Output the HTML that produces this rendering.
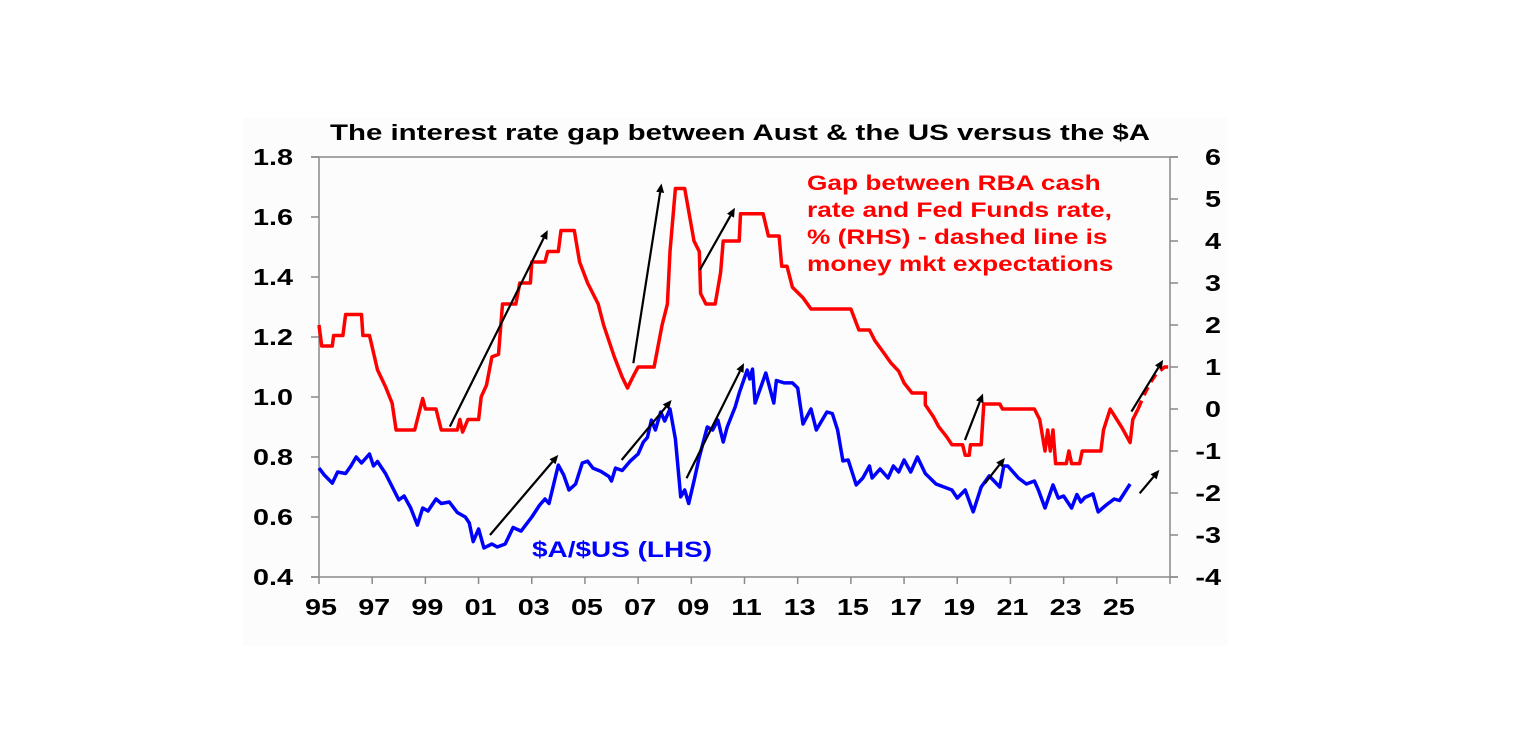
<!DOCTYPE html>
<html><head><meta charset="utf-8"><style>
html,body{margin:0;padding:0;background:#fff;}
svg{display:block;font-family:"Liberation Sans",Arial,sans-serif;}
</style></head><body>
<svg id="chart" width="1536" height="744" viewBox="0 0 1536 744" xmlns="http://www.w3.org/2000/svg">
<rect x="243" y="118" width="985" height="528" fill="#fcfcfc"/>
<text x="330" y="140" font-size="22" font-weight="bold" fill="#000" textLength="820" lengthAdjust="spacingAndGlyphs">The interest rate gap between Aust &amp; the US versus the $A</text>
<g id="axes"></g>
<g id="marks"></g>
<g id="arrows"></g>
<g id="rhsnote" font-size="21" font-weight="bold" fill="#ff0000">
<text x="807" y="190">Gap between RBA cash</text>
<text x="807" y="217">rate and Fed Funds rate,</text>
<text x="807" y="244">% (RHS) - dashed line is</text>
<text x="807" y="271">money mkt expectations</text>
</g>
<text id="blueLabel" x="532" y="557" font-size="22" font-weight="bold" fill="#0000ff">$A/$US (LHS)</text>
</svg>
<script>
const xTickLabels=["95","97","99","01","03","05","07","09","11","13","15","17","19","21","23","25"];
const xTickYears=[1995,1997,1999,2001,2003,2005,2007,2009,2011,2013,2015,2017,2019,2021,2023,2025,2027];
const leftTicks=[0.4,0.6,0.8,1.0,1.2,1.4,1.6,1.8];
const rightTicks=[-4,-3,-2,-1,0,1,2,3,4,5,6];
const gapYears=[1995.0,1995.1,1995.5,1995.55,1995.9,1996.0,1996.6,1996.65,1996.9,1997.2,1997.5,1997.75,1997.9,1998.6,1998.9,1999.0,1999.4,1999.6,2000.2,2000.3,2000.4,2000.6,2001.0,2001.1,2001.3,2001.5,2001.75,2001.9,2002.4,2002.55,2002.95,2003.0,2003.5,2003.6,2004.0,2004.1,2004.6,2004.8,2005.1,2005.3,2005.5,2005.7,2006.1,2006.4,2006.6,2006.8,2007.0,2007.6,2007.9,2008.1,2008.2,2008.4,2008.75,2009.1,2009.3,2009.35,2009.55,2009.9,2010.1,2010.2,2010.8,2010.85,2011.7,2011.9,2012.3,2012.4,2012.6,2012.8,2013.2,2013.5,2015.0,2015.3,2015.7,2015.9,2016.2,2016.5,2016.8,2017.0,2017.3,2017.8,2017.8,2018.1,2018.3,2018.6,2018.8,2019.2,2019.3,2019.45,2019.5,2019.9,2020.0,2020.6,2020.7,2021.9,2022.1,2022.3,2022.4,2022.5,2022.6,2022.7,2023.1,2023.2,2023.3,2023.6,2023.7,2024.4,2024.5,2024.75,2024.95,2025.2,2025.5,2025.6,2025.8];
const gapValues=[2.0,1.5,1.5,1.75,1.75,2.25,2.25,1.75,1.75,0.93,0.53,0.14,-0.5,-0.5,0.25,0.0,0.0,-0.5,-0.5,-0.25,-0.55,-0.25,-0.25,0.29,0.57,1.24,1.3,2.5,2.5,3.0,3.0,3.5,3.5,3.75,3.75,4.25,4.25,3.5,3.0,2.75,2.5,2.0,1.25,0.76,0.5,0.76,1.0,1.0,2.0,2.5,3.75,5.25,5.25,4.0,3.75,2.75,2.5,2.5,3.25,4.0,4.0,4.65,4.65,4.12,4.12,3.4,3.4,2.9,2.65,2.38,2.38,1.88,1.88,1.63,1.37,1.1,0.9,0.62,0.38,0.38,0.1,-0.18,-0.42,-0.66,-0.85,-0.85,-1.1,-1.1,-0.85,-0.85,0.12,0.12,0.0,0.0,-0.25,-1.0,-0.5,-1.0,-0.5,-1.3,-1.3,-1.0,-1.3,-1.3,-1.0,-1.0,-0.5,0.0,-0.2,-0.45,-0.8,-0.25,0.0];
const expYears=[2025.8,2026.0,2026.25,2026.5,2026.8,2027.0];
const expValues=[0.0,0.3,0.62,0.85,1.0,1.0];
const audYears=[1995.0,1995.2,1995.5,1995.7,1996.0,1996.2,1996.4,1996.6,1996.9,1997.05,1997.2,1997.5,1997.7,1998.0,1998.2,1998.45,1998.7,1998.9,1999.1,1999.4,1999.6,1999.9,2000.2,2000.5,2000.65,2000.8,2001.0,2001.2,2001.5,2001.7,2002.0,2002.3,2002.6,2003.0,2003.3,2003.5,2003.65,2004.0,2004.2,2004.4,2004.65,2004.9,2005.1,2005.3,2005.6,2005.9,2006.0,2006.15,2006.4,2006.7,2007.0,2007.2,2007.35,2007.5,2007.65,2007.85,2008.0,2008.2,2008.4,2008.6,2008.75,2008.9,2009.1,2009.3,2009.6,2009.8,2010.0,2010.2,2010.35,2010.65,2010.8,2011.1,2011.2,2011.3,2011.4,2011.6,2011.8,2012.1,2012.2,2012.5,2012.8,2013.0,2013.2,2013.5,2013.7,2014.1,2014.3,2014.5,2014.7,2014.9,2015.2,2015.45,2015.7,2015.8,2016.1,2016.4,2016.6,2016.8,2017.0,2017.25,2017.5,2017.8,2018.2,2018.5,2018.8,2019.0,2019.3,2019.6,2019.9,2020.2,2020.6,2020.75,2020.9,2021.3,2021.6,2021.9,2022.05,2022.3,2022.6,2022.8,2023.0,2023.3,2023.5,2023.65,2023.8,2024.1,2024.3,2024.6,2024.9,2025.1,2025.5,2025.65];
const audValues=[0.763,0.74,0.713,0.75,0.745,0.77,0.80,0.78,0.81,0.77,0.785,0.745,0.71,0.657,0.67,0.63,0.573,0.63,0.62,0.66,0.645,0.65,0.615,0.60,0.58,0.518,0.56,0.497,0.51,0.50,0.51,0.565,0.553,0.60,0.64,0.66,0.645,0.773,0.74,0.69,0.71,0.78,0.786,0.763,0.752,0.735,0.72,0.763,0.755,0.786,0.81,0.85,0.865,0.923,0.89,0.95,0.92,0.96,0.86,0.667,0.69,0.645,0.72,0.80,0.90,0.89,0.923,0.85,0.90,0.967,1.013,1.09,1.06,1.093,0.98,1.03,1.08,0.98,1.055,1.047,1.047,1.03,0.91,0.96,0.89,0.95,0.945,0.89,0.787,0.79,0.707,0.73,0.77,0.73,0.76,0.73,0.77,0.75,0.79,0.75,0.80,0.745,0.71,0.70,0.69,0.663,0.69,0.617,0.70,0.737,0.70,0.77,0.77,0.73,0.71,0.72,0.69,0.63,0.707,0.663,0.67,0.63,0.675,0.65,0.665,0.677,0.617,0.64,0.66,0.655,0.71];
const arrowStartYears=[1999.92,2006.82,2009.32,2001.43,2006.38,2008.82,2019.29,2020.04,2025.55,2025.86];
const arrowStartVals=[-0.42,1.09,3.31,0.54,0.79,0.729,-0.74,0.712,-0.06,0.679];
const arrowEndYears=[2003.6,2007.88,2010.64,2004.0,2008.26,2010.98,2019.97,2020.79,2026.74,2026.6];
const arrowEndVals=[4.26,5.37,4.79,0.807,0.99,1.113,0.37,0.797,1.17,0.757];
const arrowAxis=["R","R","R","L","L","L","R","L","R","L"];

const X0=319,X1=1170,YT=157,YB=577;
const xS=y=>X0+(y-1995)/(2027-1995)*(X1-X0);
const yL=v=>YB-(v-0.4)/(1.8-0.4)*(YB-YT);
const yR=v=>YB-(v+4)/10*(YB-YT);
const NS="http://www.w3.org/2000/svg";
function mk(tag,attrs,parent){const e=document.createElementNS(NS,tag);for(const k in attrs)e.setAttribute(k,attrs[k]);parent.appendChild(e);return e;}
function stretch(t,f){const w=t.getComputedTextLength();t.setAttribute('textLength',(w*f).toFixed(1));t.setAttribute('lengthAdjust','spacingAndGlyphs');}
const axes=document.getElementById('axes'),marks=document.getElementById('marks'),arrows=document.getElementById('arrows');
const ax="#8a8a8a";
let e;
e=mk('line',{x1:X0,y1:YT,x2:X0,y2:YB,stroke:ax,'stroke-width':1.5},axes);

e=mk('line',{x1:X1,y1:YT,x2:X1,y2:YB,stroke:ax,'stroke-width':1.5},axes);

e=mk('line',{x1:X0-8,y1:YT,x2:X1+8,y2:YT,stroke:ax,'stroke-width':1.5},axes);

e=mk('line',{x1:X0-8,y1:YB,x2:X1+8,y2:YB,stroke:ax,'stroke-width':1.5},axes);

leftTicks.forEach(v=>{const y=yL(v);
 e=mk('line',{x1:X0-8,y1:y,x2:X0,y2:y,stroke:ax,'stroke-width':1.5},axes);
 
 e=mk('text',{x:X0-26,y:y+8,'text-anchor':'end','font-size':23,'font-weight':'bold'},axes);e.textContent=v.toFixed(1);
 stretch(e,1.25);});
rightTicks.forEach(v=>{const y=yR(v);
 e=mk('line',{x1:X1,y1:y,x2:X1+8,y2:y,stroke:ax,'stroke-width':1.5},axes);
 
 e=mk('text',{x:X1+51,y:y+8,'text-anchor':'end','font-size':23,'font-weight':'bold'},axes);e.textContent=String(v);
 stretch(e,1.25);});
xTickYears.forEach((yr,i)=>{const x=xS(yr);
 e=mk('line',{x1:x,y1:YB,x2:x,y2:YB+7,stroke:ax,'stroke-width':1.5},axes);
 
 if(xTickLabels[i]){e=mk('text',{x:x+2,y:YB+38,'text-anchor':'middle','font-size':23,'font-weight':'bold'},axes);e.textContent=xTickLabels[i];
 stretch(e,1.25);}});
document.querySelectorAll('#rhsnote text').forEach(t=>stretch(t,1.25));
stretch(document.getElementById('blueLabel'),1.27);
function path(xs,vs,sc){return xs.map((x,i)=>(i?'L':'M')+xS(x).toFixed(1)+','+sc(vs[i]).toFixed(1)).join(' ');}
e=mk('path',{d:path(gapYears,gapValues,yR),fill:'none',stroke:'#ff0000','stroke-width':3.5,'stroke-linejoin':'round'},marks);

e=mk('path',{d:path(expYears,expValues,yR),fill:'none',stroke:'#ff0000','stroke-width':3.5,'stroke-dasharray':'9,6'},marks);

e=mk('path',{d:path(audYears,audValues,yL),fill:'none',stroke:'#0000ff','stroke-width':3.5,'stroke-linejoin':'round'},marks);

arrowStartYears.forEach((y0,i)=>{const sc=arrowAxis[i]==="R"?yR:yL;
 const x1=xS(y0),y1=sc(arrowStartVals[i]),x2=xS(arrowEndYears[i]),y2=sc(arrowEndVals[i]);
 const a=Math.atan2(y2-y1,x2-x1),L=9,W=4;
 const bx=x2-L*Math.cos(a),by=y2-L*Math.sin(a);
 e=mk('line',{x1:x1,y1:y1,x2:bx,y2:by,stroke:'#000','stroke-width':2.2},arrows);
 
 const p=[[x2,y2],[bx-W*Math.sin(a),by+W*Math.cos(a)],[bx+W*Math.sin(a),by-W*Math.cos(a)]];
 e=mk('polygon',{points:p.map(q=>q[0].toFixed(1)+','+q[1].toFixed(1)).join(' '),fill:'#000'},arrows);
 });
</script>
</body></html>
